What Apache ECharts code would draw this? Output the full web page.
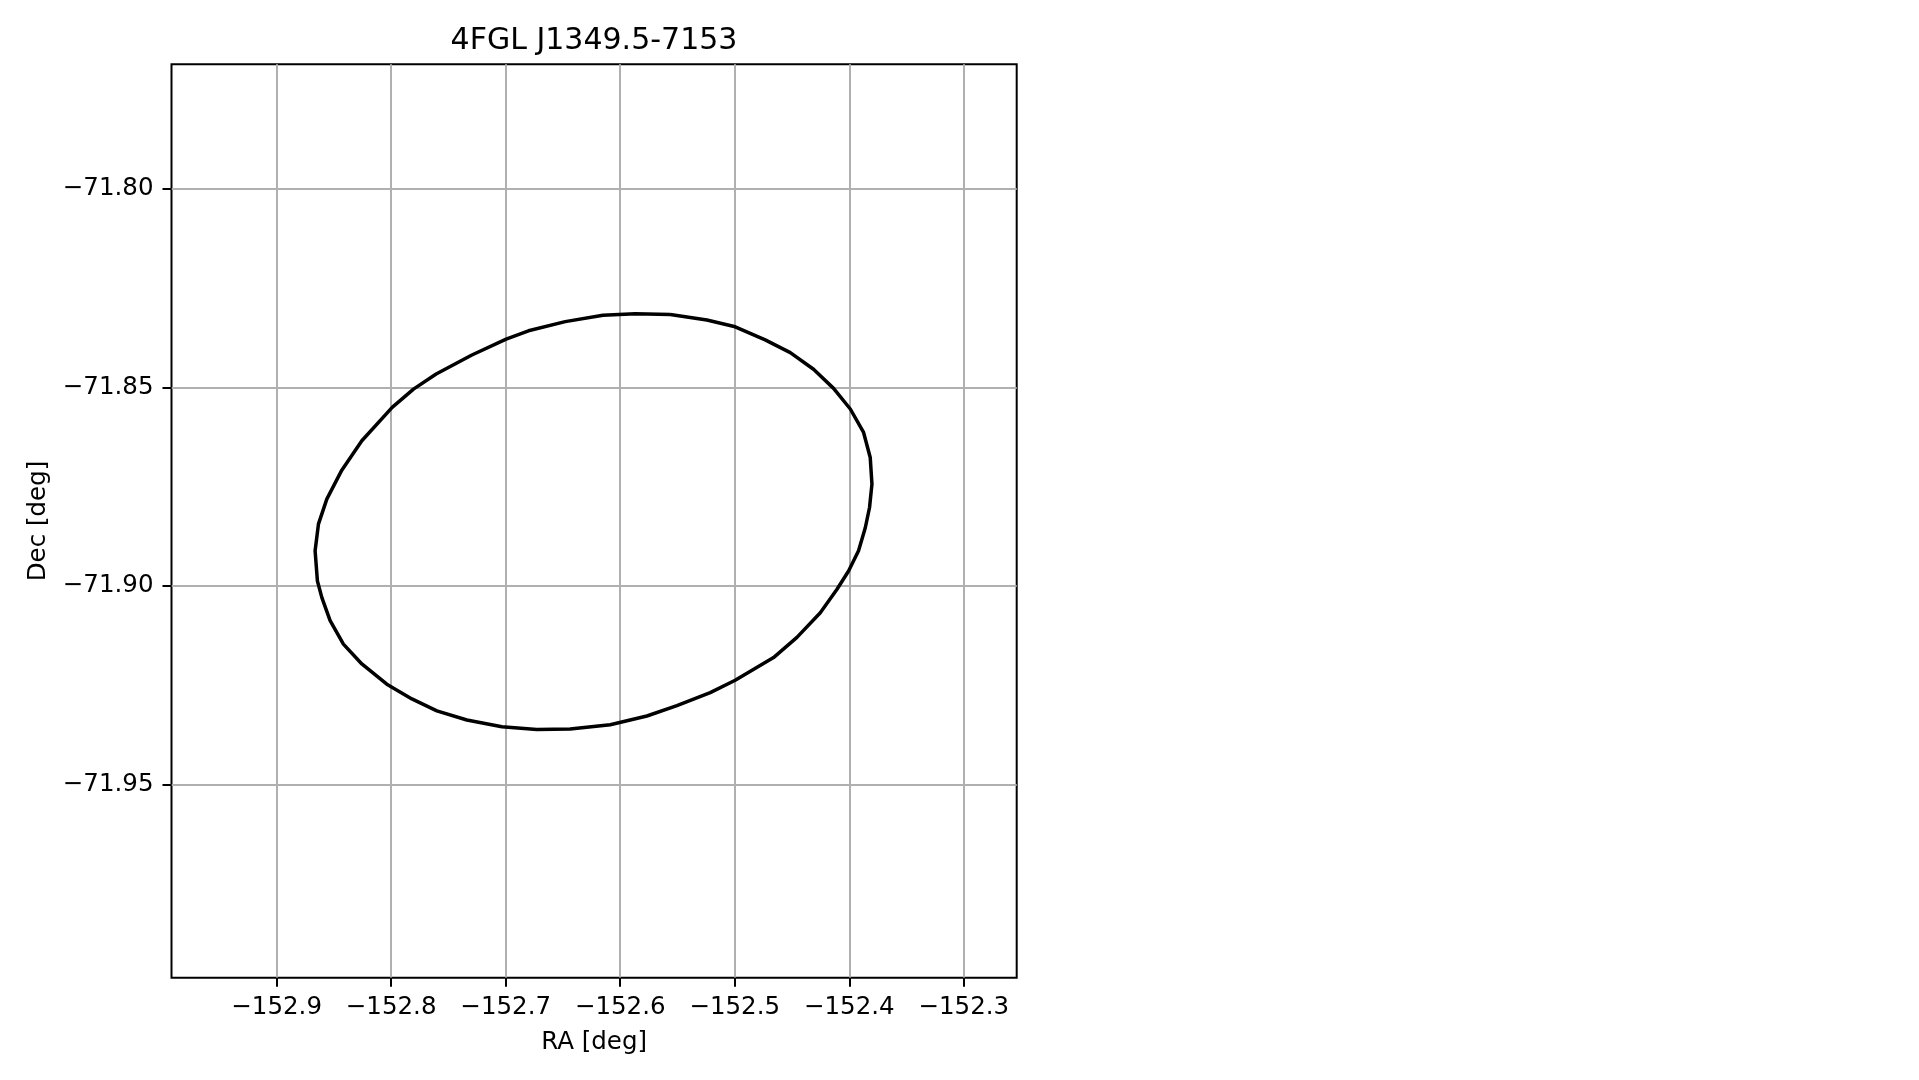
<!DOCTYPE html>
<html>
<head>
<meta charset="utf-8">
<script src="https://cdn.jsdelivr.net/npm/echarts@6/dist/echarts.min.js"></script>
<style>
html,body{margin:0;padding:0;background:#fff;}
#chart{width:1919px;height:1080px;}
</style>
</head>
<body>
<div id="chart"></div>
<script>
const chartTitle = '4FGL J1349.5-7153';
const xName = 'RA [deg]';
const yName = 'Dec [deg]';

const raTicks = [-152.9, -152.8, -152.7, -152.6, -152.5, -152.4, -152.3];
const decTicks = [-71.95, -71.90, -71.85, -71.80];
const raRange = [-152.9918, -152.2538];
const decRange = [-71.9986, -71.7686];

// Ellipse contour vertices
const contourRA = [
  -152.5563, -152.5869, -152.6151, -152.6480, -152.6801, -152.6996, -152.7295, -152.7607,
  -152.7805, -152.7991, -152.8256, -152.8431, -152.8562, -152.8635, -152.8664, -152.8644,
  -152.8605, -152.8533, -152.8417, -152.8256, -152.8038, -152.7819, -152.7601, -152.7339,
  -152.7033, -152.6728, -152.6437, -152.6087, -152.5767, -152.5505, -152.5214, -152.4996,
  -152.4661, -152.4457, -152.4253, -152.4107, -152.4006, -152.3919, -152.3860, -152.3823,
  -152.3802, -152.3817, -152.3875, -152.3991, -152.4137, -152.4312, -152.4515, -152.4734,
  -152.4996, -152.5243
];
const contourDec = [
  -71.8316, -71.8314, -71.8318, -71.8334, -71.8357, -71.8378, -71.8418, -71.8466,
  -71.8504, -71.8550, -71.8634, -71.8708, -71.8781, -71.8844, -71.8911, -71.8987,
  -71.9029, -71.9087, -71.9146, -71.9196, -71.9247, -71.9284, -71.9314, -71.9337,
  -71.9354, -71.9361, -71.9360, -71.9349, -71.9327, -71.9301, -71.9268, -71.9237,
  -71.9180, -71.9129, -71.9067, -71.9008, -71.8962, -71.8911, -71.8853, -71.8802,
  -71.8743, -71.8676, -71.8613, -71.8554, -71.8502, -71.8454, -71.8412, -71.8380,
  -71.8347, -71.8330
];

const contour = contourRA.map((ra, i) => [ra, contourDec[i]]);
contour.push(contour[0]);

const FONT = 'DejaVu Sans';
const fmtMinus = (v, d) => (v < 0 ? '\u2212' : '') + Math.abs(v).toFixed(d);

const chart = echarts.init(document.getElementById('chart'), null, {renderer: 'canvas'});
chart.setOption({
  backgroundColor: '#ffffff',
  animation: false,
  title: {
    text: chartTitle,
    left: 594,
    top: 26,
    padding: 0,
    textAlign: 'center',
    textStyle: {fontFamily: FONT, fontSize: 30, fontWeight: 'normal', color: '#000'}
  },
  grid: {
    left: 171.5, right: 902.3, top: 64.3, bottom: 102.3,
    outerBoundsMode: 'none',
    containLabel: false,
    show: true,
    borderColor: '#000',
    borderWidth: 2,
    backgroundColor: 'transparent'
  },
  xAxis: {
    type: 'value',
    min: raRange[0],
    max: raRange[1],
    name: xName,
    nameLocation: 'middle',
    nameGap: 52,
    nameTextStyle: {fontFamily: FONT, fontSize: 24.5, color: '#000'},
    axisLine: {show: false},
    axisTick: {show: true, inside: false, length: 9, lineStyle: {color: '#000', width: 2}, customValues: raTicks},
    axisLabel: {
      customValues: raTicks,
      margin: 17,
      fontFamily: FONT, fontSize: 24.5, color: '#000',
      formatter: v => fmtMinus(v, 1)
    },
    splitLine: {show: true, lineStyle: {color: '#b0b0b0', width: 2}}
  },
  yAxis: {
    type: 'value',
    min: decRange[0],
    max: decRange[1],
    name: yName,
    nameLocation: 'middle',
    nameGap: 120,
    nameRotate: 90,
    nameTextStyle: {fontFamily: FONT, fontSize: 24.5, color: '#000'},
    axisLine: {show: false},
    axisTick: {show: true, inside: false, length: 9, lineStyle: {color: '#000', width: 2}, customValues: decTicks},
    axisLabel: {
      customValues: decTicks,
      margin: 18,
      fontFamily: FONT, fontSize: 24.5, color: '#000',
      formatter: v => fmtMinus(v, 2)
    },
    splitLine: {show: true, lineStyle: {color: '#b0b0b0', width: 2}}
  },
  series: [{
    type: 'line',
    data: contour,
    showSymbol: false,
    symbol: 'none',
    smooth: false,
    clip: true,
    lineStyle: {color: '#000', width: 3.5},
    z: 5
  }]
});
</script>
</body>
</html>
